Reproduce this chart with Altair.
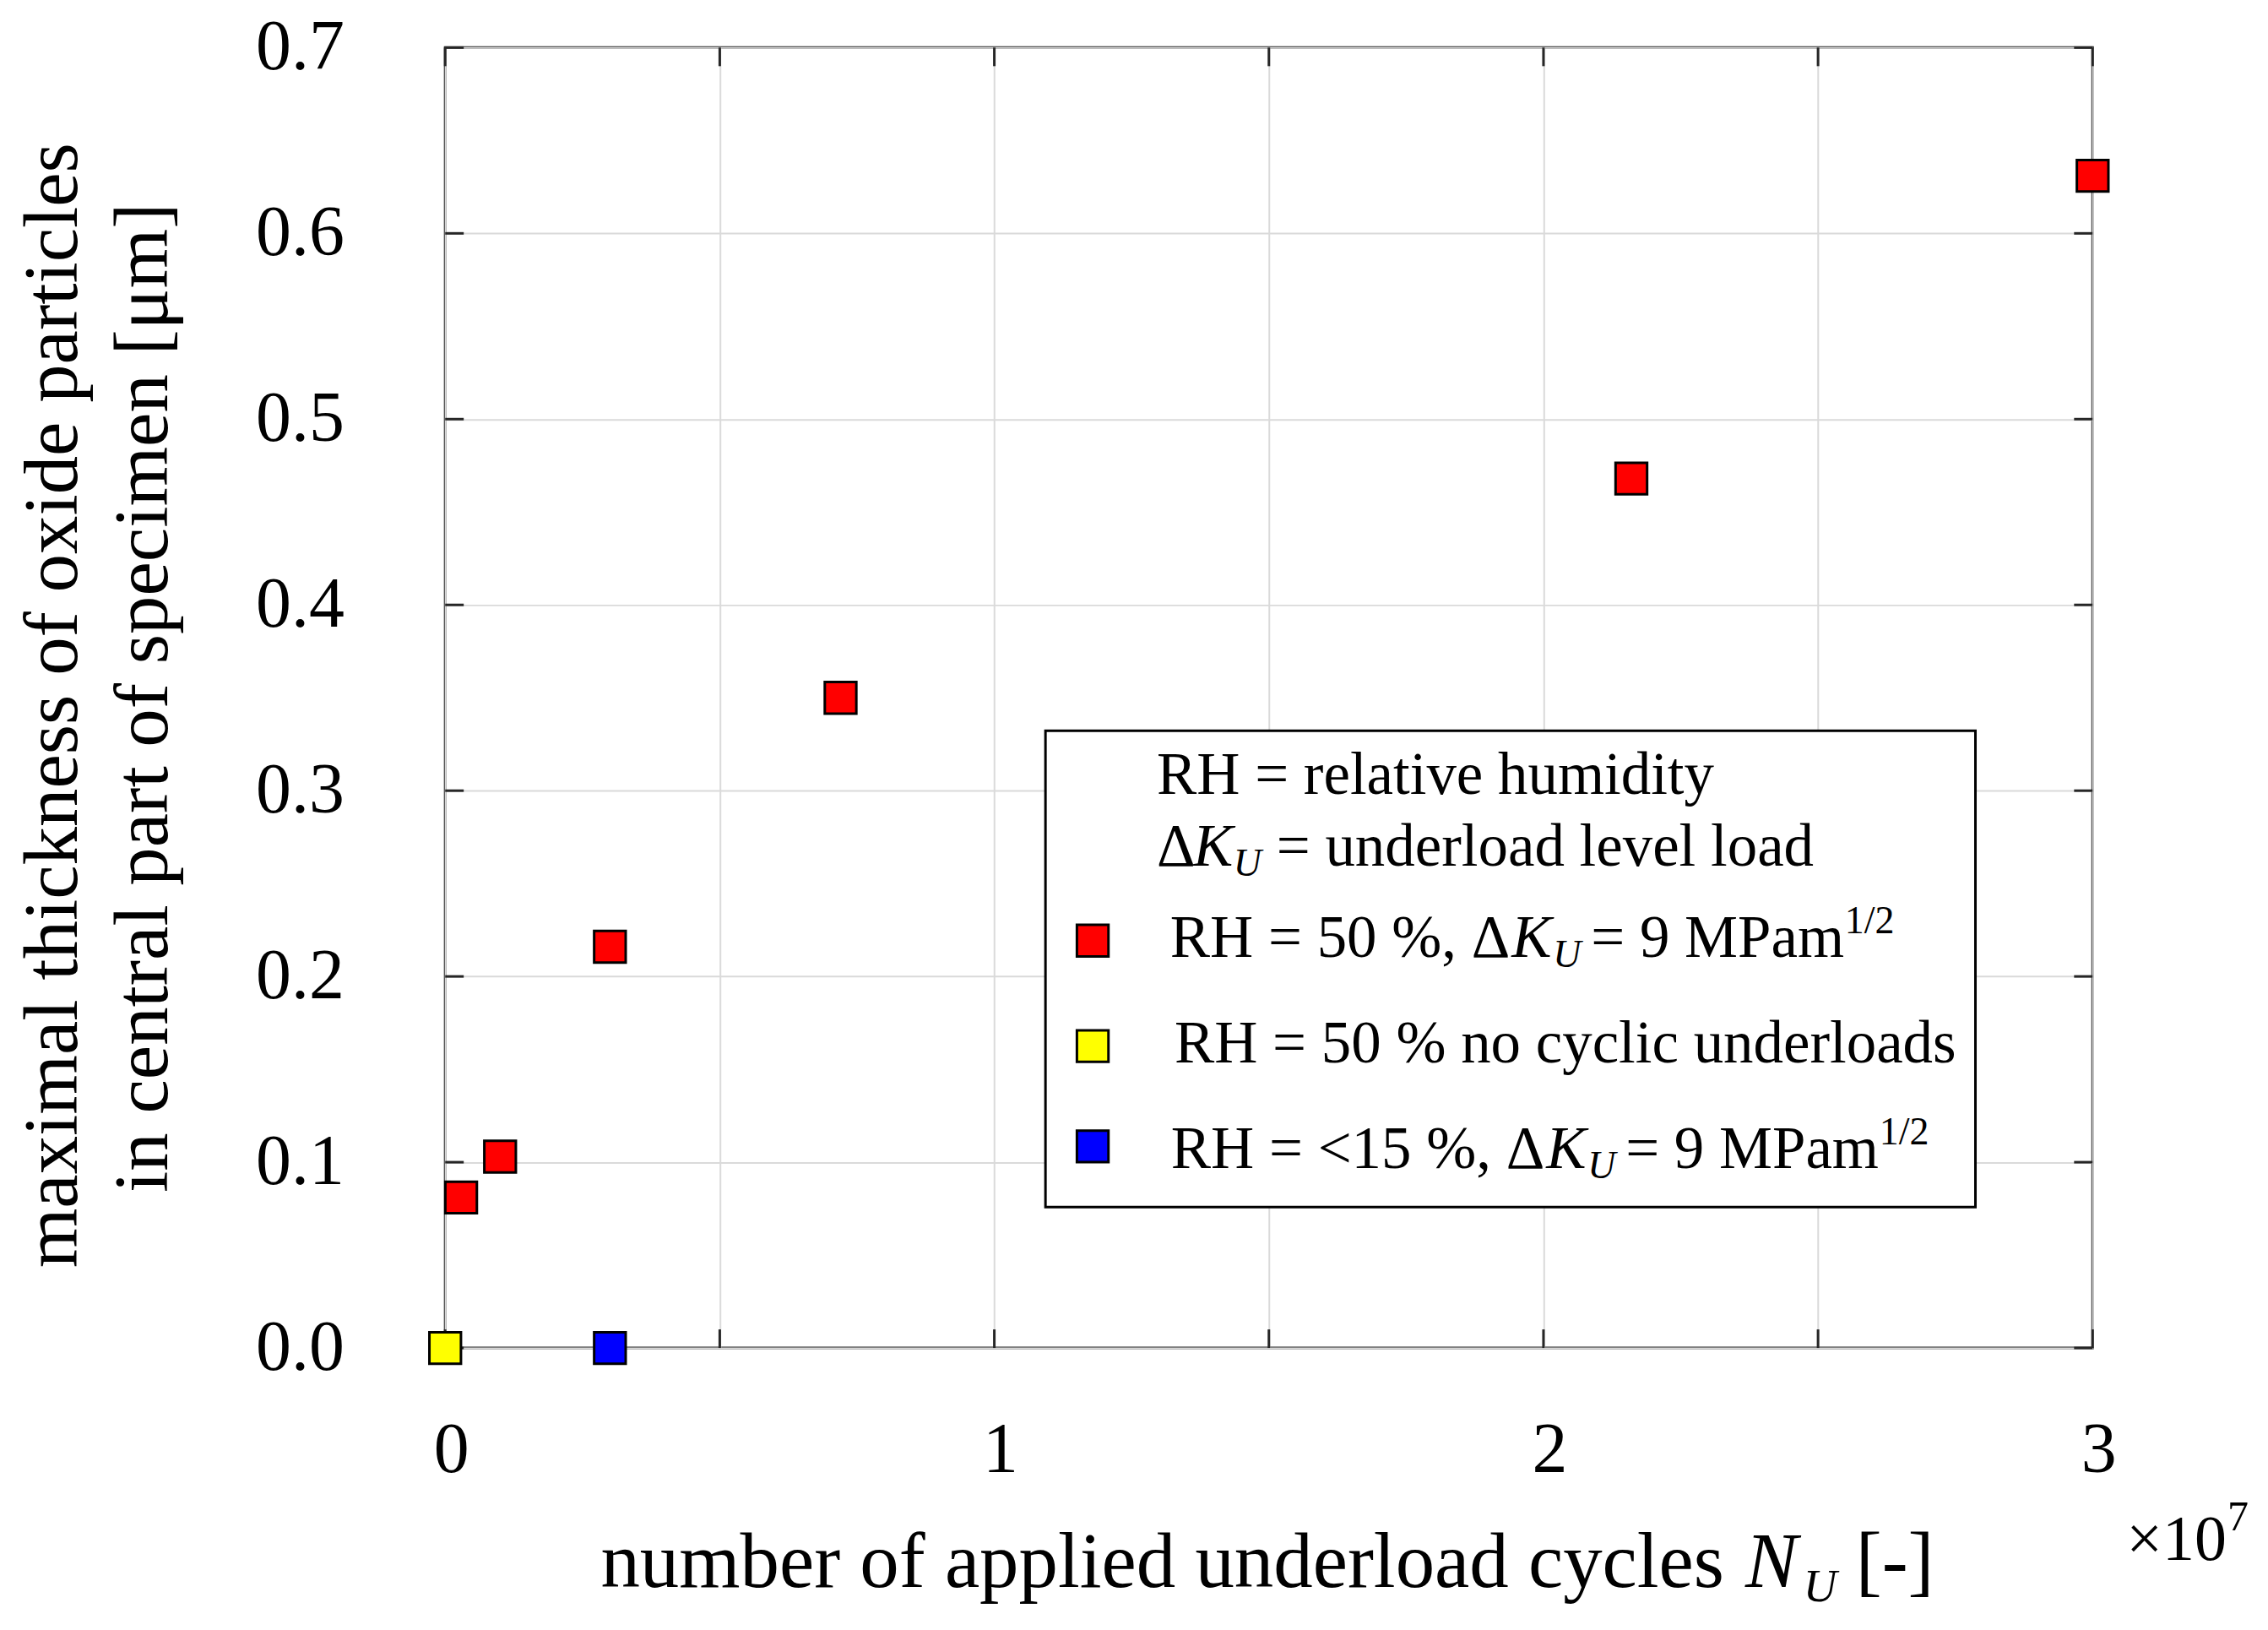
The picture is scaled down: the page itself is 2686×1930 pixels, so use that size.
import altair as alt
import pandas as pd

# ---------------- data ----------------
series_keys = ["rh50_u9", "rh50_none", "rh15_u9"]
series_colors = ["#ff0000", "#ffff00", "#0000ff"]

red_cycles = [2.9e5, 1.0e6, 3.0e6, 7.2e6, 2.16e7, 3.0e7]
red_thickness = [0.081, 0.103, 0.216, 0.350, 0.468, 0.631]
yellow_cycles = [0.0]
yellow_thickness = [0.0]
blue_cycles = [3.0e6]
blue_thickness = [0.0]

x_grid = [0, 5e6, 1e7, 1.5e7, 2e7, 2.5e7, 3e7]
y_grid = [0.0, 0.1, 0.2, 0.3, 0.4, 0.5, 0.6, 0.7]

df = pd.DataFrame({
    "cycles": red_cycles + yellow_cycles + blue_cycles,
    "thickness": red_thickness + yellow_thickness + blue_thickness,
    "series": [series_keys[0]] * len(red_cycles)
    + [series_keys[1]] * len(yellow_cycles)
    + [series_keys[2]] * len(blue_cycles),
})

# ---------------- style ----------------
W, H = 1954, 1542
FONT = "Liberation Serif"
TICK = 22
GRID = "#dadada"
FRAME = "#262626"
LEG_FS = 71
SMALL_FS = 46

x_scale = alt.Scale(domain=[0, 3e7], nice=False, zero=False)
y_scale = alt.Scale(domain=[0, 0.7], nice=False, zero=False)
color_scale = alt.Scale(domain=series_keys, range=series_colors)

x_axis = alt.Axis(
    values=x_grid,
    labelExpr="datum.value % 10000000 === 0 ? format(datum.value / 10000000, 'd') : ''",
    title=None, grid=True, gridColor=GRID, gridWidth=2, ticks=False, tickSize=0,
    domain=False, labelFont=FONT, labelFontSize=84, labelColor="black",
    labelPadding=81, labelOffset=7, labelFlush=False, labelOverlap=False,
)
y_axis = alt.Axis(
    values=y_grid, format=".1f",
    title=None, grid=True, gridColor=GRID, gridWidth=2, ticks=False, tickSize=0,
    domain=False, labelFont=FONT, labelFontSize=84, labelColor="black",
    labelPadding=120, labelFlush=False, labelOverlap=False,
)

one = alt.Data(values=[{"k": 1}])

points = alt.Chart(df).mark_square(
    size=1400, filled=True, opacity=1, stroke="black", strokeWidth=3
).encode(
    x=alt.X("cycles:Q", scale=x_scale, axis=x_axis),
    y=alt.Y("thickness:Q", scale=y_scale, axis=y_axis),
    color=alt.Color("series:N", scale=color_scale, legend=None),
)

xt = pd.DataFrame({"cycles": x_grid})
yt = pd.DataFrame({"thickness": y_grid})
tick_style = dict(color=FRAME, strokeWidth=3)

ticks_bottom = alt.Chart(xt).mark_rule(**tick_style).encode(
    x=alt.X("cycles:Q", scale=x_scale, axis=x_axis),
    y=alt.value(H), y2=alt.value(H - TICK))
ticks_top = alt.Chart(xt).mark_rule(**tick_style).encode(
    x=alt.X("cycles:Q", scale=x_scale, axis=x_axis),
    y=alt.value(0), y2=alt.value(TICK))
ticks_left = alt.Chart(yt).mark_rule(**tick_style).encode(
    y=alt.Y("thickness:Q", scale=y_scale, axis=y_axis),
    x=alt.value(0), x2=alt.value(TICK))
ticks_right = alt.Chart(yt).mark_rule(**tick_style).encode(
    y=alt.Y("thickness:Q", scale=y_scale, axis=y_axis),
    x=alt.value(W - TICK), x2=alt.value(W))


def txt(s, x, y, size, italic=False, align="left", angle=0):
    kw = dict(text=s, font=FONT, fontSize=size, align=align,
              baseline="alphabetic", color="black")
    if italic:
        kw["fontStyle"] = "italic"
    if angle:
        kw["angle"] = angle
    return alt.Chart(one).mark_text(**kw).encode(x=alt.value(x), y=alt.value(y))


def sq(color, x, y):
    return alt.Chart(one).mark_square(
        size=1400, filled=True, opacity=1, color=color, stroke="black", strokeWidth=3
    ).encode(x=alt.value(x), y=alt.value(y))


def dk_entry(prefix, k_x, base):
    # prefix ending in Δ, italic K, subscript italic U, "= 9 MPam", superscript 1/2
    return [
        txt(prefix, k_x - 2, base, LEG_FS, align="right"),
        txt("K", k_x, base, LEG_FS, italic=True),
        txt("U", k_x + 49, base + 12, SMALL_FS, italic=True),
        txt("= 9 MPam", k_x + 94, base, LEG_FS),
        txt("1/2", k_x + 395, base - 28, SMALL_FS),
    ]


legend_box = alt.Chart(one).mark_rect(
    fill="white", stroke="black", strokeWidth=3
).encode(x=alt.value(712), x2=alt.value(1815), y=alt.value(810), y2=alt.value(1375))

legend = [
    legend_box,
    txt("RH = relative humidity", 844, 885, LEG_FS),
    txt("Δ", 844, 970, LEG_FS),
    txt("K", 887, 970, LEG_FS, italic=True),
    txt("U", 935, 982, SMALL_FS, italic=True),
    txt("= underload level load", 986, 970, LEG_FS),
    sq(series_colors[0], 768, 1059),
    *dk_entry("RH = 50 %, Δ", 1265, 1078),
    sq(series_colors[1], 768, 1184),
    txt("RH = 50 % no cyclic underloads", 865, 1203, LEG_FS),
    sq(series_colors[2], 768, 1303),
    *dk_entry("RH = <15 %, Δ", 1306, 1329),
]

titles = [
    txt("number of applied underload cycles", 1517, 1825, 93, align="right"),
    txt("N", 1542, 1825, 93, italic=True),
    txt("U", 1611, 1842, 55, italic=True),
    txt("[-]", 1673, 1825, 93),
    txt("×10", 1994, 1793, 76),
    txt("7", 2114, 1758, 50),
    txt("maximal thickness of oxide particles", -437, 780, 91, align="center", angle=270),
    txt("in central part of specimen [μm]", -330, 771, 91, align="center", angle=270),
]

chart = alt.layer(
    ticks_bottom, ticks_top, ticks_left, ticks_right, *legend, points, *titles
).properties(
    width=W, height=H,
    autosize=alt.AutoSizeParams(type="none"),
    padding={"left": 520, "top": 47, "right": 200, "bottom": 330},
    background="white",
).configure_view(stroke=FRAME, strokeWidth=3)

chart.save("out.html", embed_options={"renderer": "svg", "actions": False})
